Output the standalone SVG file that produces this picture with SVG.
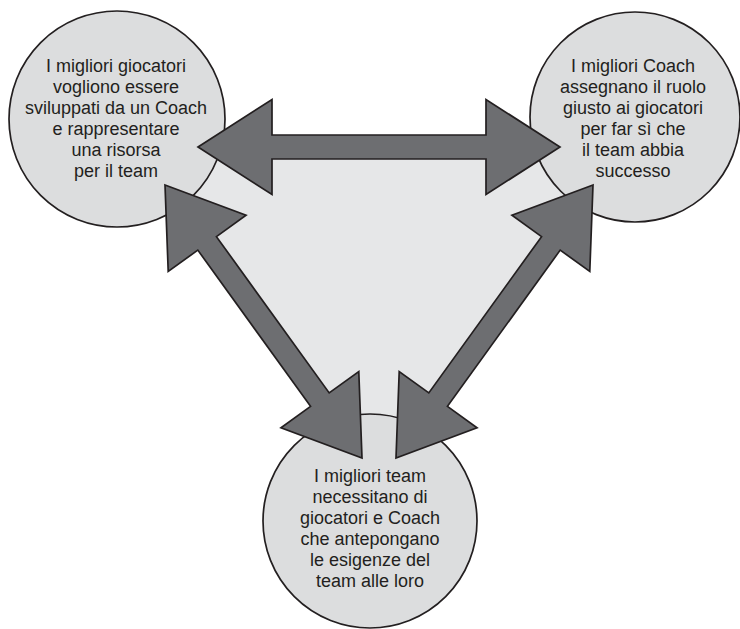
<svg xmlns="http://www.w3.org/2000/svg" width="740" height="629" viewBox="0 0 740 629">
<style>
.bg{fill:#e6e7e8;stroke:none}
.node circle{fill:#dcddde;stroke:#231f20;stroke-width:1.7}
.node text{font-family:"Liberation Sans",Arial,sans-serif;font-size:18px;fill:#231f20;text-anchor:middle}
.arrow{fill:#6d6e71;stroke:#231f20;stroke-width:1.7;stroke-linejoin:miter}
</style>
<rect width="740" height="629" fill="#ffffff"/>
<polygon class="bg" points="137.6,147 620.4,147 379,481.5"/>
<g id="node-players" class="node">
<circle cx="117" cy="119" r="108"/>
<text x="116" y="72">I migliori giocatori</text>
<text x="116" y="93">vogliono essere</text>
<text x="116" y="114">sviluppati da un Coach</text>
<text x="116" y="135">e rappresentare</text>
<text x="116" y="156">una risorsa</text>
<text x="116" y="177">per il team</text>
</g>
<g id="node-coach" class="node">
<circle cx="635" cy="117" r="105"/>
<text x="633" y="72">I migliori Coach</text>
<text x="633" y="93">assegnano il ruolo</text>
<text x="633" y="114">giusto ai giocatori</text>
<text x="633" y="135">per far sì che</text>
<text x="633" y="156">il team abbia</text>
<text x="633" y="177">successo</text>
</g>
<g id="node-team" class="node">
<circle cx="370" cy="521" r="107"/>
<text x="370" y="482">I migliori team</text>
<text x="370" y="503">necessitano di</text>
<text x="370" y="524">giocatori e Coach</text>
<text x="370" y="545">che antepongano</text>
<text x="370" y="566">le esigenze del</text>
<text x="370" y="587">team alle loro</text>
</g>
<g id="connectors">
<polygon class="arrow" points="198,147 272,99.5 272,135 486,135 486,99.5 560,147 486,194.5 486,159 272,159 272,194.5"/>
<polygon class="arrow" points="165,185 246.05,215.3 216.45,236.65 329.19,392.89 358.79,371.54 362,458 280.95,427.7 310.55,406.35 197.81,250.11 168.21,271.46"/>
<polygon class="arrow" points="593,185 511.95,215.3 541.55,236.65 428.81,392.89 399.21,371.54 396,458 477.05,427.7 447.45,406.35 560.19,250.11 589.79,271.46"/>
</g>
</svg>
